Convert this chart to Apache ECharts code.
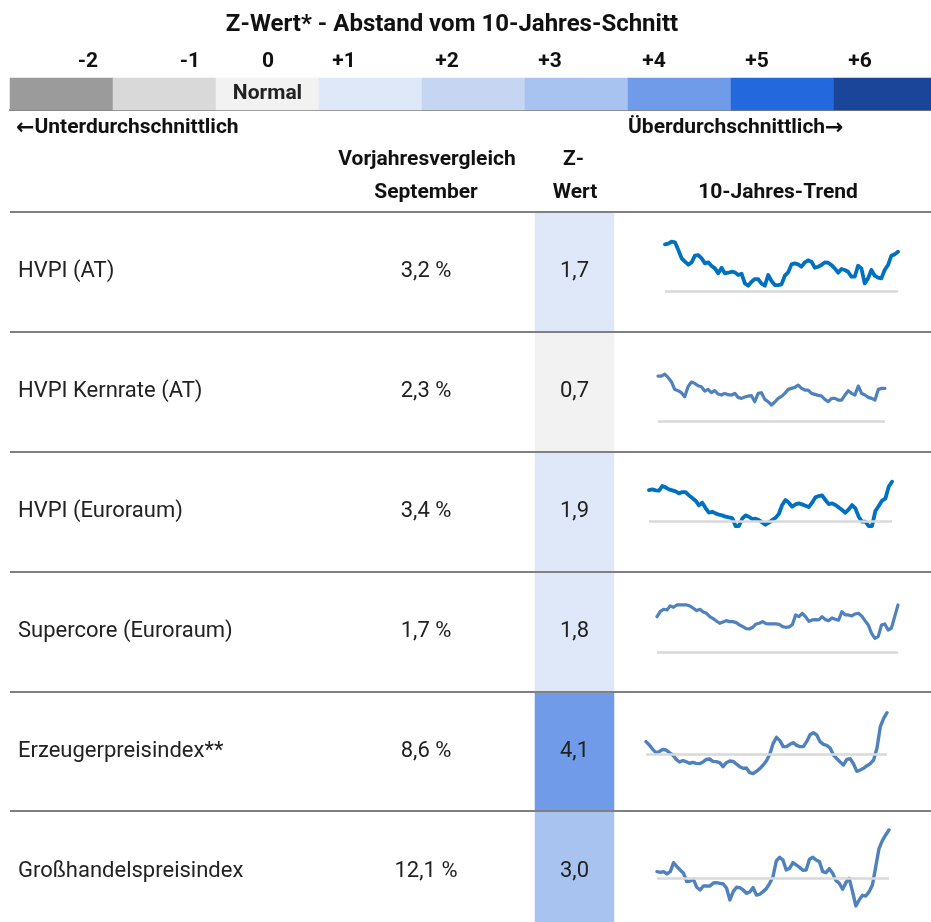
<!DOCTYPE html>
<html>
<head>
<meta charset="utf-8">
<script src="https://cdn.jsdelivr.net/npm/echarts@6/dist/echarts.min.js"></script>
<style>
  html, body { margin: 0; padding: 0; background: #fff; }
  #chart { width: 931px; height: 922px; }
</style>
</head>
<body>
<div id="chart"></div>
<script>
// --- data ---
var rowNames = ['HVPI (AT)', 'HVPI Kernrate (AT)', 'HVPI (Euroraum)', 'Supercore (Euroraum)', 'Erzeugerpreisindex**', 'Großhandelspreisindex'];
var yoyLabels = ['3,2 %', '2,3 %', '3,4 %', '1,7 %', '8,6 %', '12,1 %'];
var zValues = [1.7, 0.7, 1.9, 1.8, 4.1, 3.0];

var scaleTicks = ['-2', '-1', '0', '+1', '+2', '+3', '+4', '+5', '+6'];
var scaleValues = [-2, -1, 0, 1, 2, 3, 4, 5, 6];

// 10-Jahres-Trend (relativ zur Grundlinie)
var trendHvpiAt = [14.2, 14.4, 15.0, 14.8, 12.5, 10.0, 9.0, 8.1, 8.8, 10.8, 11.0, 10.0, 8.5, 8.8, 7.7, 7.0, 5.5, 7.2, 5.5, 5.7, 6.0, 5.8, 5.0, 5.4, 2.5, 1.8, 3.0, 3.8, 3.8, 2.4, 1.8, 5.0, 3.2, 2.0, 2.0, 2.2, 4.8, 5.8, 8.2, 8.5, 8.2, 7.5, 8.8, 9.4, 9.0, 7.2, 7.5, 8.0, 8.8, 8.7, 8.0, 7.0, 5.7, 6.8, 6.5, 6.0, 4.5, 4.5, 7.8, 7.0, 2.5, 4.0, 6.5, 4.8, 4.2, 4.0, 6.5, 8.0, 10.8, 11.2, 12.0];
var trendKernAt = [13.7, 13.7, 14.3, 13.3, 12.0, 9.7, 9.3, 8.7, 7.5, 10.5, 11.9, 11.5, 10.8, 10.5, 9.2, 9.7, 8.7, 9.3, 8.3, 8.0, 8.5, 8.1, 8.0, 8.5, 7.3, 7.0, 7.4, 7.7, 7.8, 6.0, 8.5, 8.7, 6.7, 6.0, 5.0, 5.9, 7.0, 7.6, 8.5, 9.7, 10.0, 10.3, 11.0, 10.0, 9.5, 9.5, 8.5, 8.2, 7.9, 7.7, 6.7, 6.0, 7.0, 7.0, 6.5, 6.5, 8.0, 9.3, 8.5, 8.0, 10.7, 8.5, 8.0, 7.3, 7.0, 6.5, 9.7, 10.0, 10.0];
var trendHvpiEa = [9.5, 9.7, 9.4, 9.3, 10.7, 10.3, 9.7, 9.4, 9.1, 8.5, 8.9, 8.9, 7.9, 7.1, 6.3, 4.9, 5.7, 4.1, 2.7, 3.0, 2.5, 2.1, 1.9, 1.5, 1.3, 1.1, -1.3, -1.3, 0.9, 1.9, 1.5, 0.8, 0.9, 0.5, -0.2, -0.9, -0.3, 0.5, 1.2, 2.3, 5.0, 6.5, 5.7, 4.5, 5.2, 5.5, 5.2, 4.8, 4.4, 5.7, 7.3, 7.7, 7.9, 6.5, 5.3, 5.5, 5.0, 4.3, 3.5, 2.7, 3.7, 5.0, 4.0, 1.5, 0.0, 0.0, -1.3, -1.3, 3.2, 4.7, 6.3, 6.9, 10.5, 12.0];
var trendSupercore = [10.7, 12.3, 12.9, 12.7, 13.9, 13.5, 14.2, 14.2, 14.2, 14.2, 13.9, 13.2, 12.5, 12.9, 12.1, 11.7, 10.7, 10.1, 9.4, 8.7, 9.1, 9.5, 9.2, 9.2, 8.9, 8.2, 7.7, 7.1, 7.0, 7.5, 8.5, 8.7, 9.2, 8.6, 8.5, 8.5, 8.5, 8.4, 7.7, 7.5, 7.6, 8.3, 11.2, 10.7, 11.7, 10.7, 9.3, 9.7, 9.8, 9.7, 10.7, 9.8, 9.5, 10.3, 9.9, 9.6, 12.2, 11.2, 11.2, 10.9, 11.5, 11.7, 10.9, 9.5, 8.2, 5.7, 4.2, 4.7, 8.2, 8.5, 6.7, 7.2, 10.7, 14.2];
var trendEpi = [3.7, 2.7, 1.4, 0.4, 0.7, 1.4, 1.2, 0.4, -0.3, -1.6, -2.4, -2.0, -2.3, -2.8, -2.5, -2.8, -2.9, -2.4, -1.6, -1.5, -2.2, -2.3, -2.6, -3.8, -2.6, -2.1, -2.2, -3.0, -3.8, -4.3, -4.2, -5.6, -5.9, -5.2, -4.4, -3.3, -2.0, 0.0, 3.2, 5.0, 4.0, 2.2, 2.2, 2.9, 3.4, 2.6, 2.2, 2.2, 3.7, 5.8, 6.4, 5.7, 3.7, 2.9, 2.6, 1.8, -0.3, -1.4, -2.4, -3.3, -1.6, -1.4, -3.0, -5.2, -4.8, -4.3, -3.5, -2.9, -1.8, 1.7, 8.2, 10.7, 12.4];
var trendGhpi = [2.0, 1.8, 2.0, 1.3, 2.0, 4.7, 3.5, 2.5, 1.5, -1.0, -0.8, -0.3, -2.7, -3.5, -2.3, -2.3, -2.3, -1.4, -1.3, -1.5, -1.7, -3.0, -6.5, -4.0, -2.7, -2.8, -3.5, -4.5, -4.1, -2.8, -5.0, -4.8, -4.0, -3.1, -1.5, 0.5, 5.2, 6.3, 5.5, 2.5, 3.0, 4.7, 4.0, 3.3, 2.4, 2.5, 5.7, 6.3, 5.5, 5.0, 2.0, 1.7, 2.9, 1.5, -0.7, -1.5, -3.3, -1.3, 0.0, -4.0, -8.3, -6.5, -5.1, -5.3, -4.0, -2.0, 3.5, 9.0, 11.3, 13.0, 14.5];

var trends = [trendHvpiAt, trendKernAt, trendHvpiEa, trendSupercore, trendEpi, trendGhpi];

// --- layout / styles ---
var FONT = 'Roboto';
var scaleColors = ['#9b9b9b', '#d9d9d9', '#f2f2f2', '#dfe8f8', '#c5d6f3', '#a9c3f0', '#6f9be8', '#2468dd', '#1a4598'];
var lineColors = ['#0070c0', '#4f81bd', '#0070c0', '#4f81bd', '#4f81bd', '#4f81bd'];
var lineWidths = [3.8, 3.2, 3.8, 3.2, 3.4, 3.4];
// spark grids: left, width, baseline y, y-min, y-max (1 unit = 10/3 px)
var sparkBox = [
    [665, 233, 291.7, 0, 15.5],
    [658, 227, 421.7, 0, 14.5],
    [649, 243, 521.7, -1.5, 12],
    [657, 241, 652.3, 0, 14.5],
    [646, 241, 754, -6, 12.4],
    [657, 232, 878.3, -8.5, 14.5]
];
var U = 10 / 3;

var pieces = [];
for (var i = 0; i < scaleValues.length; i++) {
    var p = { color: scaleColors[i] };
    if (i > 0) p.gte = scaleValues[i];
    if (i < scaleValues.length - 1) p.lt = scaleValues[i] + 1;
    pieces.push(p);
}

var grids = [
    { left: 10, top: 78, width: 927, height: 32, outerBoundsMode: 'none' },      // Farbskala
    { left: 10, top: 212, width: 921, height: 719, outerBoundsMode: 'none' },    // Tabelle
    { left: 535, top: 212, width: 79, height: 719, outerBoundsMode: 'none' }     // Z-Wert
];
var xAxes = [
    { gridIndex: 0, type: 'category', data: scaleTicks, axisLine: { show: true, lineStyle: { color: '#808080', width: 2 } }, axisTick: { show: false }, axisLabel: { show: false } },
    { gridIndex: 1, type: 'value', show: false },
    { gridIndex: 2, type: 'category', data: ['Z'], show: false }
];
var yAxes = [
    { gridIndex: 0, type: 'category', data: [''], show: false },
    {
        gridIndex: 1, type: 'category', data: rowNames, inverse: true, z: 10,
        axisLine: { show: false }, axisTick: { show: false },
        splitLine: { show: true, lineStyle: { color: '#808080', width: 2 } },
        axisLabel: { inside: true, margin: 8, fontFamily: FONT, fontSize: 22, color: '#222' }
    },
    {
        gridIndex: 1, type: 'category', data: yoyLabels, inverse: true, position: 'left',
        axisLine: { show: false }, axisTick: { show: false }, splitLine: { show: false },
        axisLabel: { inside: true, margin: 416, align: 'center', fontFamily: FONT, fontSize: 22, color: '#222' }
    },
    { gridIndex: 2, type: 'category', data: rowNames, inverse: true, show: false }
];

var series = [
    {
        type: 'heatmap', xAxisIndex: 0, yAxisIndex: 0,
        data: scaleValues.map(function (v, i) { return [i, 0, v]; }),
        itemStyle: { borderWidth: 0 },
        label: {
            show: true, fontFamily: FONT, fontSize: 21, fontWeight: 'bold', color: '#222',
            formatter: function (p) { return p.value[2] === 0 ? 'Normal' : ''; }
        }
    },
    {
        type: 'heatmap', xAxisIndex: 2, yAxisIndex: 3,
        data: zValues.map(function (v, i) { return [0, i, v]; }),
        itemStyle: { borderWidth: 0 },
        label: {
            show: true, fontFamily: FONT, fontSize: 22, color: '#222',
            formatter: function (p) { return p.value[2].toFixed(1).replace('.', ','); }
        }
    }
];

trends.forEach(function (d, k) {
    var b = sparkBox[k];
    var gi = grids.length;
    grids.push({ left: b[0], width: b[1], top: b[2] - b[4] * U, height: (b[4] - b[3]) * U, outerBoundsMode: 'none' });
    xAxes.push({ gridIndex: gi, type: 'category', boundaryGap: false, data: d.map(function (_, j) { return j; }), show: false });
    yAxes.push({ gridIndex: gi, type: 'value', min: b[3], max: b[4], show: false });
    series.push({
        type: 'line', xAxisIndex: gi, yAxisIndex: gi + 1,
        data: d, showSymbol: false, smooth: false, silent: true, clip: false,
        lineStyle: { color: lineColors[k], width: lineWidths[k], join: 'round', cap: 'round' },
        markLine: {
            silent: true, symbol: 'none', label: { show: false },
            lineStyle: { color: '#d9d9d9', width: 2.5, type: 'solid' },
            data: [{ yAxis: 0 }]
        }
    });
});

function txt(x, y, s, opts) {
    return {
        type: 'text', x: x, y: y,
        style: Object.assign({ text: s, fontFamily: FONT, fontSize: 21, fontWeight: 'bold', fill: '#111', textAlign: 'center', textVerticalAlign: 'middle' }, opts || {})
    };
}
// Pfeile in einer Schrift mit breiter Glyphe
var arrowRich = { a: { fontFamily: 'DejaVu Sans', fontSize: 22, fontWeight: 'bold', fill: '#111' } };
var tickX = [88, 190, 268, 344, 447, 550, 654, 757, 860];
var graphics = [
    txt(452, 25, 'Z-Wert* - Abstand vom 10-Jahres-Schnitt', { fontSize: 24 }),
    txt(16, 128, '{a|←}Unterdurchschnittlich', { textAlign: 'left', rich: arrowRich }),
    txt(628, 128, 'Überdurchschnittlich{a|→}', { textAlign: 'left', rich: arrowRich }),
    txt(427, 160, 'Vorjahresvergleich'),
    txt(426, 193, 'September'),
    txt(563, 160, 'Z-', { textAlign: 'left' }),
    txt(575, 193, 'Wert'),
    txt(778, 193, '10-Jahres-Trend')
];
scaleTicks.forEach(function (t, i) { graphics.push(txt(tickX[i], 62, t)); });

var chart = echarts.init(document.getElementById('chart'));
chart.setOption({
    animation: false,
    backgroundColor: '#fff',
    grid: grids,
    xAxis: xAxes,
    yAxis: yAxes,
    visualMap: { type: 'piecewise', show: false, seriesIndex: [0, 1], dimension: 2, pieces: pieces },
    series: series,
    graphic: graphics
});
</script>
</body>
</html>
